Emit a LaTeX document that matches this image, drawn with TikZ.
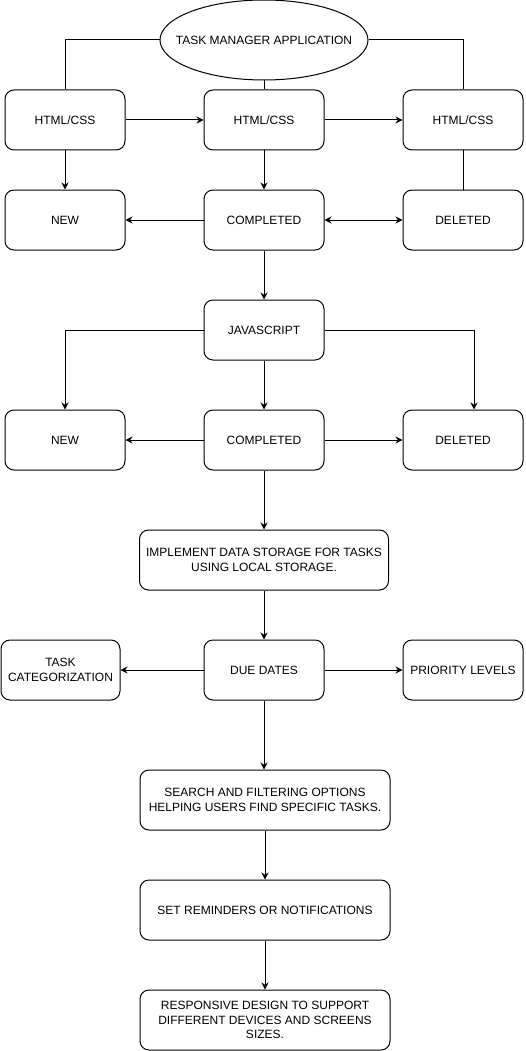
\documentclass[tikz,border=0pt]{standalone}
\usepackage{fontspec}
\setmainfont{Liberation Sans}
\usetikzlibrary{arrows.meta,shapes.geometric}
\begin{document}
\begin{tikzpicture}[x=1pt,y=-1pt,
  font=\fontsize{12}{14.5}\selectfont,
  line width=1pt,
  box/.style={draw,rounded corners=9pt,minimum width=120pt,minimum height=60pt,inner sep=2pt,align=center},
  wide/.style={box,minimum width=250pt},
  arr/.style={-{Stealth[length=7pt,width=7pt]}},
  darr/.style={{Stealth[length=7pt,width=7pt]}-{Stealth[length=7pt,width=7pt]}}]
\useasboundingbox (0,0) rectangle (526,1051);
\node[draw,ellipse,minimum width=208pt,minimum height=80pt,inner sep=0pt] (ell) at (264,40) {};
\node (elltext) at (ell.center) {TASK MANAGER APPLICATION};
\node[box] (h1) at (65,120) {HTML/CSS};
\node[box] (h2) at (264,120) {HTML/CSS};
\node[box] (h3) at (463,120) {HTML/CSS};
\node[box] (new1) at (65,220) {NEW};
\node[box] (comp1) at (264,220) {COMPLETED};
\node[box] (del1) at (463,220) {DELETED};
\node[box] (js) at (264,330) {JAVASCRIPT};
\node[box] (new2) at (65,440) {NEW};
\node[box] (comp2) at (264,440) {COMPLETED};
\node[box] (del2) at (463,440) {DELETED};
\node[box,minimum width=249pt] (impl) at (264,560) {IMPLEMENT DATA STORAGE FOR TASKS\\USING LOCAL STORAGE.};
\node[box] (due) at (264,670) {DUE DATES};
\node[box,minimum width=119pt] (cat) at (60.5,670) {TASK\\CATEGORIZATION};
\node[box] (prio) at (463,670) {PRIORITY LEVELS};
\node[wide] (search) at (265,800) {SEARCH AND FILTERING OPTIONS\\HELPING USERS FIND SPECIFIC TASKS.};
\node[wide] (remind) at (265,910) {SET REMINDERS OR NOTIFICATIONS};
\node[wide] (resp) at (265,1020) {RESPONSIVE DESIGN TO SUPPORT\\DIFFERENT DEVICES AND SCREENS\\SIZES.};
\coordinate (djs) at ([xshift=11pt]del2.north);
\draw (ell.west) -| (h1.north);
\draw (ell.east) -| (h3.north);
\draw (ell.south) -- (h2.north);
\draw[arr] (h1) -- (h2);
\draw[arr] (h2) -- (h3);
\draw[arr] (h1) -- (new1);
\draw[arr] (h2) -- (comp1);
\draw (h3) -- (del1);
\draw[arr] (comp1) -- (new1);
\draw[darr] (comp1) -- (del1);
\draw[arr] (comp1) -- (js);
\draw[arr] (js.west) -| (new2.north);
\draw[arr] (js.east) -| (djs);
\draw[arr] (js) -- (comp2);
\draw[arr] (comp2) -- (new2);
\draw[arr] (comp2) -- (del2);
\draw[arr] (comp2) -- (impl);
\draw[arr] (impl) -- (due);
\draw[arr] (due) -- (cat);
\draw[arr] (due) -- (prio);
\draw[arr] (due) -- (due |- search.north);
\draw[arr] (search) -- (remind);
\draw[arr] (remind) -- (resp);
\end{tikzpicture}
\end{document}
